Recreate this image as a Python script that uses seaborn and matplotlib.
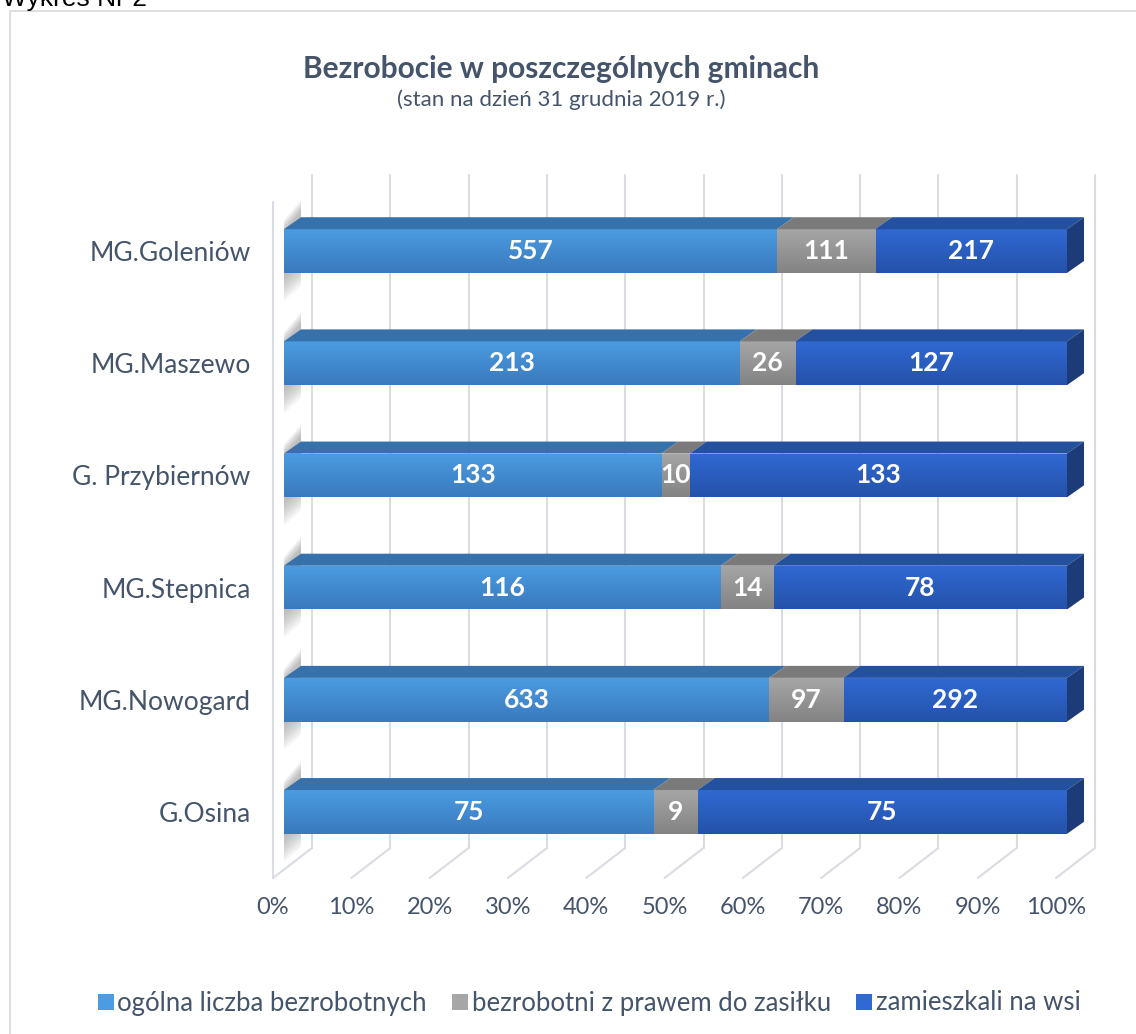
import numpy as np
import pandas as pd
import matplotlib
matplotlib.use("Agg")
import matplotlib.pyplot as plt
import matplotlib.transforms as mtransforms
from matplotlib.colors import LinearSegmentedColormap
from matplotlib.patches import Polygon, Rectangle
from matplotlib.lines import Line2D
import seaborn as sns

# data
gminy = ["MG.Goleniów", "MG.Maszewo", "G. Przybiernów", "MG.Stepnica", "MG.Nowogard", "G.Osina"]
ogolna = [557, 213, 133, 116, 633, 75]
z_zasilkiem = [111, 26, 10, 14, 97, 9]
na_wsi = [217, 127, 133, 78, 292, 75]
serie = ["ogólna liczba bezrobotnych", "bezrobotni z prawem do zasiłku", "zamieszkali na wsi"]
ticks = [0, 0.1, 0.2, 0.3, 0.4, 0.5, 0.6, 0.7, 0.8, 0.9, 1.0]

# front / top / dark-bottom shades per series
front_top = ["#4B9CE2", "#A6A6A6", "#3069D3"]
front_bot = ["#3A79BD", "#838383", "#2452AA"]
top_face = ["#3671AC", "#7A7A7A", "#2450A0"]
side_face = "#1D3B78"
txt = "#44546A"
grid_c = "#D9DCE3"

vals = np.array([ogolna, z_zasilkiem, na_wsi], dtype=float)
share = vals / vals.sum(axis=0)
cum = np.cumsum(share, axis=0)

df = pd.concat([
    pd.DataFrame({"gmina": gminy, "seria": serie[i], "cum": cum[i]})
    for i in (2, 1, 0)
])

sns.set_style("white")
plt.rcParams["font.family"] = ["Lato", "DejaVu Sans"]

W, H = 1136, 1034
fig = plt.figure(figsize=(W / 100, H / 100), dpi=100)
ax = fig.add_axes([284 / W, 166 / H, 783 / W, 673 / H])

sns.barplot(data=df, x="cum", y="gmina", hue="seria", hue_order=[serie[2], serie[1], serie[0]],
            palette=[front_top[2], front_top[1], front_top[0]], dodge=False, width=0.39,
            orient="h", ax=ax, legend=False, linewidth=0, saturation=1)

ax.set_xlim(0, 1)
ax.set_ylim(5.5, -0.5)

# gradient fill on the front faces
grad = np.linspace(0, 1, 128).reshape(-1, 1)
for k, cont in enumerate(ax.containers):
    s = 2 - k
    cmap = LinearSegmentedColormap.from_list("g%d" % s, [front_top[s], front_bot[s]])
    for bar in cont:
        bar.set_zorder(2 + k * 0.1)
        x, y, w, h = bar.get_x(), bar.get_y(), bar.get_width(), bar.get_height()
        im = ax.imshow(grad, cmap=cmap, extent=(x, x + w, y + h, y), aspect="auto",
                       origin="upper", zorder=2 + k * 0.1 + 0.05)
        im.set_clip_path(bar)

# 3D depth of bars
ddx = 17 / 783
ddy = 12 / 112.2
bh = 0.39
for j in range(len(gminy)):
    yt, yb = j - bh / 2, j + bh / 2
    # soft shadow on the left wall
    for a in range(14):
        e = a * 0.016
        ax.add_patch(Polygon([(0, yb + 0.05 + e), (0, yt + 0.02 - e * 0.5), (ddx, yt - ddy - 0.05 - e * 0.5),
                              (ddx, yb - ddy + 0.02 + e)], closed=True, facecolor="#808080",
                             alpha=0.045, lw=0, zorder=1.5, clip_on=False))
    left = 0
    for s in range(3):
        right = cum[s][j]
        ax.add_patch(Polygon([(left, yt), (right, yt), (right + ddx, yt - ddy), (left + ddx, yt - ddy)],
                             closed=True, facecolor=top_face[s], lw=0, zorder=2.5, clip_on=False))
        ax.text((left + right) / 2, j, "%d" % vals[s][j], ha="center", va="center",
                color="white", fontsize=19, fontweight="bold", zorder=5)
        left = right
    ax.add_patch(Polygon([(1, yt), (1 + ddx, yt - ddy), (1 + ddx, yb - ddy), (1, yb)],
                         closed=True, facecolor=side_face, lw=0, zorder=2.5, clip_on=False))

# back wall, left wall and floor lines
px = 1 / 783
tr = ax.get_xaxis_transform()
y_back_bot, y_back_top = 20 / 673, 1 + 20 / 673
y_front_bot, y_front_top = -10 / 673, 1 - 10 / 673 + 0.005
for t in ticks:
    ax.add_line(Line2D([t + 28 * px, t + 28 * px], [y_back_bot, y_back_top], transform=tr,
                       color=grid_c, lw=1.5, zorder=0.5, clip_on=False))
    ax.add_line(Line2D([t + 28 * px, t - 11 * px], [y_back_bot, y_front_bot], transform=tr,
                       color=grid_c, lw=1.5, zorder=0.5, clip_on=False))
ax.add_line(Line2D([-11 * px, -11 * px], [y_front_bot, y_front_top], transform=tr,
                   color=grid_c, lw=1.5, zorder=0.5, clip_on=False))

# axes text
ax.set_xticks(ticks)
ax.set_xticklabels(["%d%%" % round(t * 100) for t in ticks])
ax.tick_params(axis="x", length=0, pad=21, labelsize=17, labelcolor=txt)
ax.tick_params(axis="y", length=0, pad=24, labelsize=19, labelcolor=txt)
shift = mtransforms.ScaledTranslation(-0.11, 0, fig.dpi_scale_trans)
for lab in ax.get_xticklabels():
    lab.set_transform(lab.get_transform() + shift)
ax.set_xlabel("")
ax.set_ylabel("")
for sp in ax.spines.values():
    sp.set_visible(False)
ax.patch.set_alpha(0)

# titles
fig.text(561 / W, 1 - 69 / H, "Bezrobocie w poszczególnych gminach", ha="center", va="center",
         fontsize=21.5, fontweight="bold", color=txt)
fig.text(561 / W, 1 - 100 / H, "(stan na dzień 31 grudnia 2019 r.)", ha="center", va="center",
         fontsize=16, color=txt)
fig.text(2 / W, 1 - 6 / H, "Wykres Nr 2", ha="left", va="baseline", fontsize=19,
         family=["Liberation Sans", "DejaVu Sans"], color="black")

# chart border
fig.add_artist(Rectangle((10 / W, -0.02), 1.2, 1 - 11 / H + 0.02, transform=fig.transFigure,
                         fill=False, edgecolor="#D9D9D9", lw=1.2))

# legend
handles = [Line2D([], [], marker="s", ls="", markersize=11, markerfacecolor=front_top[s],
                  markeredgewidth=0) for s in range(3)]
fig.legend(handles, serie, loc="center", bbox_to_anchor=(588 / W, 1 - 1003 / H), ncol=3,
           frameon=False, fontsize=18.5, labelcolor=txt, handletextpad=0.05, columnspacing=0.9,
           handlelength=0.8)

fig.savefig("out.png", dpi=100)
